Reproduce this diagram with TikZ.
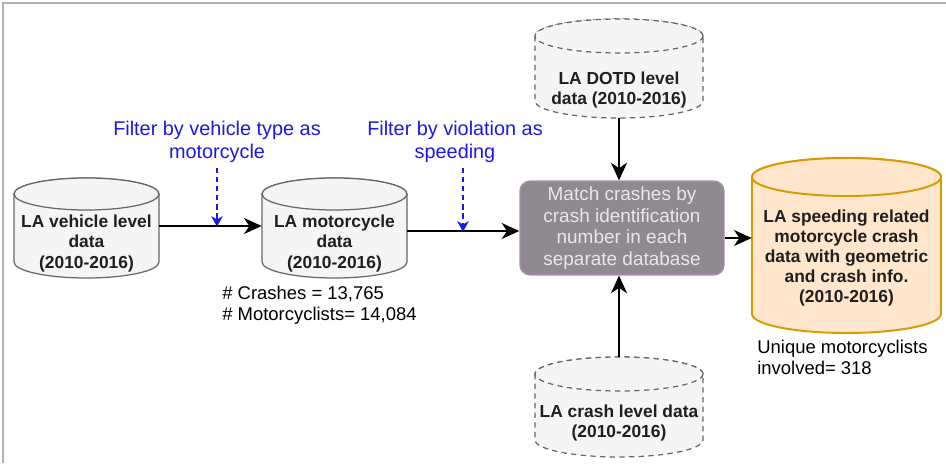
\documentclass[tikz,border=0pt]{standalone}
\usepackage{fontspec}
\setmainfont{Liberation Sans}
\usepackage{xcolor}
\usepackage{tikz}
\usetikzlibrary{arrows.meta}
\definecolor{dbfill}{HTML}{F5F5F5}
\definecolor{dbline}{HTML}{666666}
\definecolor{boxfill}{rgb}{0.56,0.54,0.56}
\definecolor{boxline}{rgb}{0.64,0.56,0.67}
\definecolor{outfill}{HTML}{FFE6CC}
\definecolor{outline}{HTML}{D79B00}
\definecolor{filtblue}{rgb}{0.10,0.10,0.90}
\definecolor{framecol}{HTML}{B3B3B3}

\begin{document}
\begin{tikzpicture}[x=0.02cm, y=0.02cm,
  db/.style={draw=dbline, fill=dbfill, line width=0.7pt},
  dbdash/.style={db, dashed, dash pattern=on 3pt off 2.5pt},
  dbout/.style={draw=outline, fill=outfill, line width=1.1pt},
  dbtext/.style={inner sep=0pt, align=center, text=black!88,
    font=\bfseries\fontsize{9.9}{11.4}\selectfont},
  flow/.style={-{Stealth[length=10pt,width=9pt,inset=3pt]}, line width=1.6pt},
  filt/.style={-{Stealth[length=6pt,width=6.5pt,inset=1.8pt]}, draw=filtblue,
    line width=1pt, dashed, dash pattern=on 3pt off 2.2pt},
  filttext/.style={inner sep=3pt, align=center, text=filtblue,
    font=\fontsize{11.3}{13}\selectfont},
  note/.style={inner sep=0pt, align=left, font=\fontsize{10.5}{11.9}\selectfont}]
  \useasboundingbox (0,0) rectangle (946,463);
  \draw[framecol, line width=1.1pt] (3,0) -- (3,460) -- (946,460);

  % cylinders
  \draw[db] (14,269) -- (14,201) arc[start angle=180,end angle=360,x radius=1.45cm,y radius=0.32cm] -- (159,269) arc[start angle=0,end angle=180,x radius=1.45cm,y radius=0.32cm] -- cycle;
  \draw[db] (86.5,269) ellipse[x radius=1.45cm,y radius=0.32cm];
  \draw[db] (262,269) -- (262,201) arc[start angle=180,end angle=360,x radius=1.45cm,y radius=0.32cm] -- (407,269) arc[start angle=0,end angle=180,x radius=1.45cm,y radius=0.32cm] -- cycle;
  \draw[db] (334.5,269) ellipse[x radius=1.45cm,y radius=0.32cm];
  \draw[dbdash] (535,427) -- (535,362) arc[start angle=180,end angle=360,x radius=1.68cm,y radius=0.34cm] -- (703,427) arc[start angle=0,end angle=180,x radius=1.68cm,y radius=0.34cm] -- cycle;
  \draw[dbdash] (619,427) ellipse[x radius=1.68cm,y radius=0.34cm];
  \draw[dbdash] (535,89) -- (535,23) arc[start angle=180,end angle=360,x radius=1.68cm,y radius=0.34cm] -- (703,89) arc[start angle=0,end angle=180,x radius=1.68cm,y radius=0.34cm] -- cycle;
  \draw[dbdash] (619,89) ellipse[x radius=1.68cm,y radius=0.34cm];
  \draw[dbout] (752,286) -- (752,149) arc[start angle=180,end angle=360,x radius=1.89cm,y radius=0.38cm] -- (941,286) arc[start angle=0,end angle=180,x radius=1.89cm,y radius=0.38cm] -- cycle;
  \draw[dbout] (846.5,286) ellipse[x radius=1.89cm,y radius=0.38cm];

  \node[dbtext, minimum width=2.9cm] (veh) at (86.5,219.5) {LA vehicle level\\data\\(2010-2016)};
  \node[dbtext, minimum width=2.9cm] (moto) at (334.5,219.5) {LA motorcycle\\data\\(2010-2016)};
  \node[dbtext, minimum width=3.36cm] (dotd) at (619,373) {LA DOTD level\\data (2010-2016)};
  \node[dbtext, minimum width=3.36cm] (crash) at (619,40) {LA crash level data\\(2010-2016)};
  \node[dbtext, minimum width=3.78cm] (out) at (846.5,205) {LA speeding related\\motorcycle crash\\data with geometric\\and crash info.\\(2010-2016)};
  \coordinate (dotd-bot) at (619,345);
  \coordinate (crash-top) at (619,106);

  \node[draw=boxline, fill=boxfill, line width=0.8pt, rounded corners=0.2cm,
    minimum width=4.08cm, minimum height=1.84cm, align=center,
    text={rgb,255:red,232;green,232;blue,232},
    font=\fontsize{10.8}{12.2}\selectfont] (box) at (622,235)
    {Match crashes by\\crash identification\\number in each\\separate database};

  \node[filttext] (filter1) at (217,321.5) {Filter by vehicle type as\\motorcycle};
  \node[filttext] (filter2) at (455,321.5) {Filter by violation as\\speeding};
  \node[note, anchor=west] (counts) at (222,157.5) {\# Crashes = 13,765\\\# Motorcyclists= 14,084};
  \node[note, anchor=west] (uniq) at (757,105.5) {Unique motorcyclists\\involved= 318};

  % connectors
  \draw[flow] ([yshift=0.35cm]veh.east) -- ([yshift=0.35cm]moto.west);
  \draw[flow] ([yshift=0.25cm]moto.east) -- ([yshift=0.25cm]moto.east -| box.west);
  \draw[flow] ([yshift=-0.2cm]box.east) -- ([yshift=-0.2cm]box.east -| out.west);
  \draw[flow] (dotd-bot) -- (dotd-bot |- box.north);
  \draw[flow] (crash-top) -- (crash-top |- box.south);
  \draw[filt] (filter1.south) -- ++(0,-1.18cm);
  \draw[filt] ([xshift=0.16cm]filter2.south) -- ++(0,-1.28cm);
\end{tikzpicture}
\end{document}
